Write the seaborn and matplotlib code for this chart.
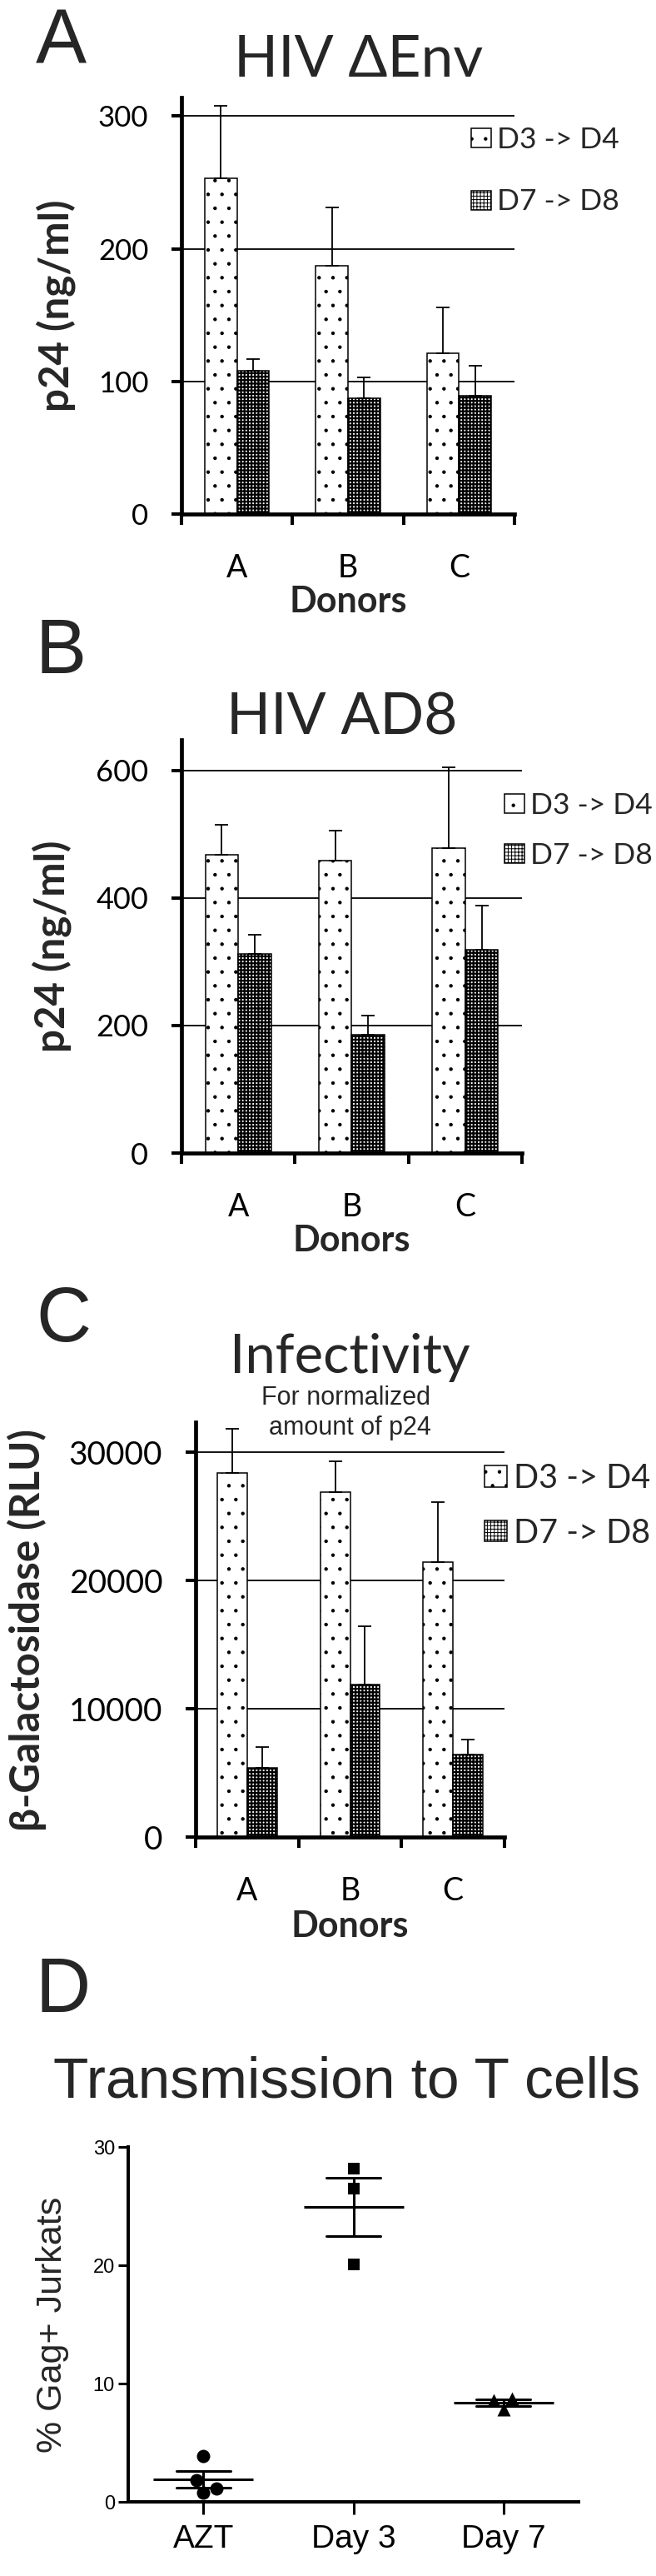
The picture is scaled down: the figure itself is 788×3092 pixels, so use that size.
import numpy as np
import pandas as pd
import matplotlib
matplotlib.use("Agg")
import matplotlib.pyplot as plt
import seaborn as sns
from matplotlib.patches import Patch

# ---- data ----
donors = ["A", "B", "C"]
conditions = ["D3 -> D4", "D7 -> D8"]

# A: HIV dEnv, p24 (ng/ml)
env_d3 = [253, 187, 121]
env_d7 = [108, 87, 89]
env_d3_err = [55, 44, 35]
env_d7_err = [9, 16, 23]

# B: HIV AD8, p24 (ng/ml)
ad8_d3 = [468, 459, 478]
ad8_d7 = [312, 186, 319]
ad8_d3_err = [47, 47, 127]
ad8_d7_err = [30, 30, 69]

# C: infectivity, beta-galactosidase (RLU)
inf_d3 = [28400, 26900, 21400]
inf_d7 = [5400, 11900, 6400]
inf_d3_err = [3400, 2400, 4700]
inf_d7_err = [1600, 4500, 1200]

# D: transmission to T cells, % Gag+ Jurkats
groups = ["AZT", "Day 3", "Day 7"]
azt = [3.9, 1.8, 0.8, 1.1]
day3 = [28.2, 26.5, 20.1]
day7 = [8.7, 7.8, 8.6]

W, H = 788, 3092
SANS = ["Lato", "DejaVu Sans"]
ARIAL = ["Liberation Sans", "DejaVu Sans"]
D3_HATCH = "."
D7_HATCH = "++++"

sns.set_theme(style="white")
plt.rcParams["font.family"] = SANS
plt.rcParams["hatch.linewidth"] = 0.7

fig = plt.figure(figsize=(W / 100, H / 100), dpi=100)


def axes_px(l, t, r, b):
    return fig.add_axes([l / W, 1 - b / H, (r - l) / W, (b - t) / H])


def fig_text(x, y, s, **kw):
    fig.text(x / W, 1 - y / H, s, va="baseline", **kw)


def set_d7_hatch(p):
    p.set_hatch(D7_HATCH)
    if hasattr(p, "set_hatch_linewidth"):
        p.set_hatch_linewidth(1.6)


def bar_panel(box, d3, d7, e3, e7, ymax, yticks, tsize, ylabel, ylab_x, xlab_y,
              leg_xy, leg_size, leg_space):
    ax = axes_px(*box)
    df = pd.DataFrame({
        "donor": donors * 2,
        "condition": [conditions[0]] * 3 + [conditions[1]] * 3,
        "value": d3 + d7,
    })
    sns.barplot(data=df, x="donor", y="value", hue="condition", order=donors,
                hue_order=conditions, width=0.58, errorbar=None,
                palette={c: "white" for c in conditions}, saturation=1,
                edgecolor="black", linewidth=1.1, legend=False, ax=ax)
    for p in ax.containers[0]:
        p.set_hatch(D3_HATCH)
    for p in ax.containers[1]:
        set_d7_hatch(p)
    # one-sided error bars on top of each bar
    for cont, errs in zip(ax.containers, [e3, e7]):
        xs = [b.get_x() + b.get_width() / 2 for b in cont]
        ys = [b.get_height() for b in cont]
        ax.errorbar(xs, ys, yerr=[np.zeros(len(errs)), errs], fmt="none",
                    ecolor="black", elinewidth=1.3, capsize=5.8, capthick=1.3)

    ax.set_xlim(-0.5, 2.5)
    ax.set_ylim(0, ymax)
    ax.set_yticks(yticks)
    ax.set_xticks([-0.5, 0.5, 1.5, 2.5], minor=True)
    ax.yaxis.grid(True, color="black", linewidth=1.3)
    ax.set_axisbelow(True)
    sns.despine(ax=ax)
    for s in ["left", "bottom"]:
        ax.spines[s].set_linewidth(3.4)
        ax.spines[s].set_color("black")
    ax.tick_params(axis="y", which="major", left=True, length=8.6, width=2.9,
                   pad=20, labelsize=tsize, color="black", labelcolor="black")
    ax.tick_params(axis="x", which="major", bottom=True, length=0, pad=34,
                   labelsize=27, labelcolor="black")
    ax.tick_params(axis="x", which="minor", bottom=True, length=9.4, width=2.9,
                   color="black")
    ax.set_ylabel(ylabel, fontsize=35.5, fontweight="bold", va="center")
    ax.yaxis.set_label_coords(ylab_x, 0.5)
    ax.set_xlabel("Donors", fontsize=31, fontweight="bold", va="center")
    ax.xaxis.set_label_coords(0.5, xlab_y)

    handles = [Patch(facecolor="white", edgecolor="black", hatch=D3_HATCH, linewidth=1.1),
               Patch(facecolor="white", edgecolor="black", hatch=D7_HATCH, linewidth=1.1)]
    set_d7_hatch(handles[1])
    ax.legend(handles, conditions, loc="upper left",
              bbox_to_anchor=(leg_xy[0] / W, 1 - leg_xy[1] / H),
              bbox_transform=fig.transFigure, frameon=False, fontsize=leg_size,
              borderpad=0, borderaxespad=0, handlelength=0.68, handleheight=0.62,
              handletextpad=0.2, labelspacing=leg_space)
    return ax


# ---- A ----
fig_text(43, 76, "A", fontsize=66, family=ARIAL)
fig_text(431, 92, "HIV \u0394Env", ha="center", fontsize=50, family=SANS)
bar_panel((218, 117, 618, 617), env_d3, env_d7, env_d3_err, env_d7_err,
          314, [0, 100, 200, 300], 25, "p24 (ng/ml)", -0.3775, -0.21,
          (566, 152), 25.5, 1.2)

# ---- B ----
fig_text(43, 808, "B", fontsize=66, family=ARIAL)
fig_text(411, 882, "HIV AD8", ha="center", fontsize=50, family=SANS)
bar_panel((218, 888, 627, 1384), ad8_d3, ad8_d7, ad8_d3_err, ad8_d7_err,
          648, [0, 200, 400, 600], 26, "p24 (ng/ml)", -0.381, -0.2117,
          (606, 951), 25.5, 0.8)

# ---- C ----
fig_text(43, 1610, "C", fontsize=66, family=ARIAL)
fig_text(420, 1648, "Infectivity", ha="center", fontsize=47, family=SANS)
fig_text(415, 1686, "For normalized", ha="center", fontsize=22, family=ARIAL)
fig_text(420, 1722, "amount of p24", ha="center", fontsize=22, family=ARIAL)
bar_panel((235, 1707, 606, 2205), inf_d3, inf_d7, inf_d3_err, inf_d7_err,
          32340, [0, 10000, 20000, 30000], 28, "\u03b2-Galactosidase (RLU)",
          -0.547, -0.215, (582, 1756), 28.5, 0.72)

# ---- D ----
fig_text(43, 2415, "D", fontsize=66, family=ARIAL)
fig_text(417, 2517, "Transmission to T cells", ha="center", fontsize=50, family=ARIAL)
ax_d = axes_px(154, 2577, 695, 3003)
df_d = pd.DataFrame({
    "group": ["AZT"] * len(azt) + ["Day 3"] * len(day3) + ["Day 7"] * len(day7),
    "value": azt + day3 + day7,
})
for g, m, sz in zip(groups, ["o", "s", "^"], [11.5, 10.5, 11.5]):
    sns.swarmplot(data=df_d[df_d["group"] == g], x="group", y="value", order=groups,
                  marker=m, size=sz, color="black", linewidth=0, ax=ax_d)
sns.pointplot(data=df_d, x="group", y="value", order=groups, errorbar="se",
              capsize=0.36, markers="_", markersize=86, markeredgewidth=2.2,
              linestyle="none", color="black", err_kws={"linewidth": 2.2}, ax=ax_d)
ax_d.set_xlim(-0.5, 2.5)
ax_d.set_ylim(0, 30)
ax_d.set_yticks([0, 10, 20, 30])
sns.despine(ax=ax_d)
for s in ["left", "bottom"]:
    ax_d.spines[s].set_linewidth(2.9)
    ax_d.spines[s].set_color("black")
ax_d.tick_params(axis="y", left=True, length=8.6, width=2.2, pad=3, labelsize=17,
                 color="black", labelcolor="black")
ax_d.tick_params(axis="x", bottom=True, length=10.8, width=2.2, pad=9, labelsize=28,
                 color="black", labelcolor="black")
for lab in ax_d.get_xticklabels() + ax_d.get_yticklabels():
    lab.set_family(ARIAL)
ax_d.set_xlabel("")
ax_d.set_ylabel("% Gag+ Jurkats", fontsize=31, family=ARIAL, va="center")
ax_d.yaxis.set_label_coords(-0.168, 0.5)

fig.savefig("out.png", dpi=100)
